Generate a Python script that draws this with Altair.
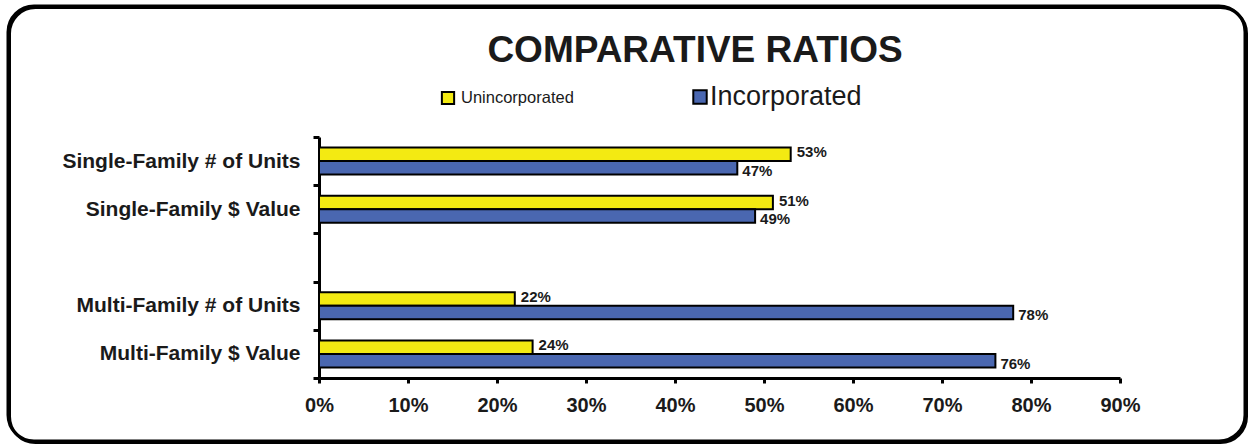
import altair as alt
import pandas as pd

# Categories (the empty one is the spacer row between the two groups)
categories = ["Single-Family # of Units", "Single-Family $ Value", " ",
              "Multi-Family # of Units", "Multi-Family $ Value"]
series = ["Unincorporated", "Incorporated"]
colors = ["#F3EA12", "#4A67B0"]

unincorporated = [53, 51, None, 22, 24]
incorporated = [47, 49, None, 78, 76]
x_ticks = [0, 10, 20, 30, 40, 50, 60, 70, 80, 90]

rows = []
for cat, u, i in zip(categories, unincorporated, incorporated):
    if u is not None:
        rows.append({"category": cat, "series": series[0], "value": u})
        rows.append({"category": cat, "series": series[1], "value": i})
df = pd.DataFrame(rows)

FONT = "Liberation Sans"
INK = "#1a1a1a"
W, H = 801, 241
LEFT, TOP = 319, 137

y_scale = alt.Scale(domain=categories, paddingInner=0, paddingOuter=0)
y_enc = alt.Y("category:N", sort=categories, scale=y_scale,
              axis=alt.Axis(title=None, labelFont=FONT, labelFontSize=21, labelFontWeight="bold",
                            labelColor=INK, labelPadding=13, labelLimit=400, tickBand="extent",
                            tickColor="black", tickWidth=3, tickSize=6,
                            domainColor="black", domainWidth=3))
# two bars per row, centred with empty space above and below
yoff_enc = alt.YOffset("series:N", sort=series,
                       scale=alt.Scale(domain=series, paddingInner=0, paddingOuter=0.785))
x_enc = alt.X("value:Q", scale=alt.Scale(domain=[0, 90], nice=False),
              axis=alt.Axis(title=None, values=x_ticks, labelExpr="datum.value + '%'",
                            labelFont=FONT, labelFontSize=20, labelFontWeight="bold",
                            labelColor=INK, labelPadding=12, labelFlush=False, grid=False,
                            tickColor="black", tickWidth=3, tickSize=5,
                            domainColor="black", domainWidth=3))

base = alt.Chart(df)

bars = base.mark_bar(stroke="black", strokeWidth=2).encode(
    x=x_enc, y=y_enc, yOffset=yoff_enc,
    color=alt.Color("series:N", scale=alt.Scale(domain=series, range=colors), legend=None),
)

label_common = dict(align="left", baseline="middle", font=FONT, fontSize=15,
                    fontWeight="bold", color=INK)
labels_u = base.transform_filter(alt.datum.series == series[0]).transform_calculate(
    label="datum.value + '%'").mark_text(dx=6, dy=-2, **label_common).encode(
    x="value:Q", y=alt.Y("category:N", sort=categories), yOffset=yoff_enc, text="label:N")
labels_i = base.transform_filter(alt.datum.series == series[1]).transform_calculate(
    label="datum.value + '%'").mark_text(dx=5, dy=3, **label_common).encode(
    x="value:Q", y=alt.Y("category:N", sort=categories), yOffset=yoff_enc, text="label:N")

one = pd.DataFrame({"k": [0]})

# Rounded frame around the whole figure
frame_shadow = alt.Chart(one).mark_rect(fill=None, stroke="black", strokeWidth=3, cornerRadius=26).encode(
    x=alt.value(8 - LEFT + 1.5), x2=alt.value(1245 - LEFT + 1.5),
    y=alt.value(6 - TOP + 1.5), y2=alt.value(441 - TOP + 1.5))
frame = alt.Chart(one).mark_rect(fill=None, stroke="black", strokeWidth=3, cornerRadius=26).encode(
    x=alt.value(8 - LEFT), x2=alt.value(1245 - LEFT),
    y=alt.value(6 - TOP), y2=alt.value(441 - TOP))

title = alt.Chart(one).mark_text(text="COMPARATIVE RATIOS", font=FONT, fontSize=37,
                                 fontWeight="bold", color=INK, align="center",
                                 baseline="middle").encode(
    x=alt.value(695 - LEFT), y=alt.value(51 - TOP))

# Legend drawn by hand: two entries of different text sizes
leg = pd.DataFrame({"series": series})
leg_sq_u = alt.Chart(leg[leg.series == series[0]]).mark_square(
    size=150, fill=colors[0], stroke="black", strokeWidth=2, opacity=1).encode(
    x=alt.value(448 - LEFT), y=alt.value(98 - TOP))
leg_sq_i = alt.Chart(leg[leg.series == series[1]]).mark_square(
    size=180, fill=colors[1], stroke="black", strokeWidth=2, opacity=1).encode(
    x=alt.value(700 - LEFT), y=alt.value(97 - TOP))
leg_tx_u = alt.Chart(leg[leg.series == series[0]]).mark_text(
    font=FONT, fontSize=16.5, color=INK, align="left", baseline="middle").encode(
    x=alt.value(461 - LEFT), y=alt.value(98 - TOP), text="series:N")
leg_tx_i = alt.Chart(leg[leg.series == series[1]]).mark_text(
    font=FONT, fontSize=27, color=INK, align="left", baseline="middle").encode(
    x=alt.value(710 - LEFT), y=alt.value(97 - TOP), text="series:N")

chart = alt.layer(
    bars, labels_u, labels_i, frame_shadow, frame, title,
    leg_sq_u, leg_sq_i, leg_tx_u, leg_tx_i,
).properties(
    width=W, height=H,
    autosize=alt.AutoSizeParams(type="none"),
    padding={"left": LEFT, "top": TOP, "right": 1252 - LEFT - W, "bottom": 447 - TOP - H},
    background="white",
).configure_view(stroke=None)

chart.save("out.html", embed_options={"renderer": "svg", "actions": False})
